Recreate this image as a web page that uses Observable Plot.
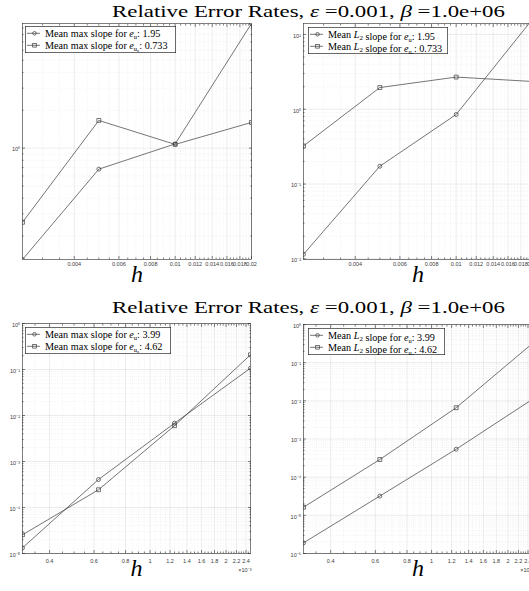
<!DOCTYPE html>
<html>
<head>
<meta charset="utf-8">
<script src="https://cdn.jsdelivr.net/npm/d3@7"></script>
<script src="https://cdn.jsdelivr.net/npm/@observablehq/plot@0.6"></script>
<style>
  html, body { margin: 0; padding: 0; background: #fff; }
  #root { position: relative; width: 529px; height: 591px; overflow: hidden; background: #fff; }
  #root > * { position: absolute; }
</style>
</head>
<body>
<div id="root"></div>
<script>
// ---------------- data ----------------
const hCoarse = [0.0025, 0.005, 0.01, 0.02];
const hFine = [0.0003125, 0.000625, 0.00125, 0.0025];

// top-left: max error
const maxErrU_coarse  = [0.13, 0.68, 1.08, 9.8];
const maxErrUz_coarse = [0.257, 1.66, 1.07, 1.60];
// top-right: L2 error
const l2ErrU_coarse  = [0.0115, 0.173, 0.85, 16];
const l2ErrUz_coarse = [0.323, 1.95, 2.69, 2.35];
// bottom-left: max error
const maxErrU_fine  = [1.33e-5, 4.06e-4, 6.8e-3, 0.107];
const maxErrUz_fine = [2.55e-5, 2.43e-4, 6.0e-3, 0.209];
// bottom-right: L2 error
const l2ErrU_fine  = [1.9e-6, 3.2e-5, 5.4e-4, 0.011];
const l2ErrUz_fine = [1.63e-5, 2.9e-4, 6.6e-3, 0.32];

// legend slopes
const slopesCoarse = ["1.95", "0.733"];
const slopesFine = ["3.99", "4.62"];

// tick values
const xTicksCoarse = [0.004, 0.006, 0.008, 0.01, 0.012, 0.014, 0.016, 0.018, 0.02];
const xTickLabelsCoarse = ["0.004", "0.006", "0.008", "0.01", "0.012", "0.014", "0.016", "0.018", "0.02"];
const xTicksFine = [0.0004, 0.0006, 0.0008, 0.001, 0.0012, 0.0014, 0.0016, 0.0018, 0.002, 0.0022, 0.0024];
const xTickLabelsFine = ["0.4", "0.6", "0.8", "1", "1.2", "1.4", "1.6", "1.8", "2", "2.2", "2.4"];

const titleText = "Relative Error Rates, ";
const epsText = "0.001";
const betaText = "1.0e+06";

// ---------------- helpers ----------------
const INK = "#2b2b2b";
const LINE = "#3a3a3a";
const SANS = "Liberation Sans, Arial, sans-serif";
const SERIF = "Liberation Serif, DejaVu Serif, serif";
const supMap = {"-": "\u207B", "0": "\u2070", "1": "\u00B9", "2": "\u00B2", "3": "\u00B3", "4": "\u2074", "5": "\u2075", "6": "\u2076", "7": "\u2077", "8": "\u2078", "9": "\u2079"};
const pow10Label = d => "10" + String(Math.round(Math.log10(d))).split("").map(c => supMap[c]).join("");

function decadeTicks([a, b]) {
  const out = [];
  for (let e = Math.ceil(Math.log10(a) - 1e-9); e <= Math.floor(Math.log10(b) + 1e-9); e++) out.push(Math.pow(10, e));
  return out;
}
function minorLogTicks([a, b]) {
  const out = [];
  for (let e = Math.floor(Math.log10(a)) - 1; e <= Math.ceil(Math.log10(b)); e++) {
    for (let k = 2; k <= 9; k++) {
      const v = k * Math.pow(10, e);
      if (v > a * 1.0001 && v < b * 0.9999) out.push(v);
    }
  }
  return out;
}

const root = document.getElementById("root");

function panel(cfg) {
  const rows = [];
  cfg.series.forEach(s => s.values.forEach((v, i) => rows.push({h: cfg.h[i], err: v, name: s.name})));
  const yMajor = decadeTicks(cfg.yDomain);
  const yMinor = minorLogTicks(cfg.yDomain);
  const xMinor = d3.range(cfg.xMinorStep[0], cfg.xDomain[1] * 0.9999, cfg.xMinorStep[1])
    .filter(v => v > cfg.xDomain[0] * 1.0001 && !cfg.xTicks.some(t => Math.abs(t - v) < 1e-9));
  const xLabelRows = cfg.xTicks.map((t, i) => ({t, label: cfg.xLabels[i]}));
  const yLabelRows = yMajor.map(t => ({t, label: pow10Label(t)}));
  const tickStyle = {stroke: INK, strokeWidth: 0.6, fill: "none", label: null};
  const marks = [
    Plot.gridX(xMinor, {stroke: "#000", strokeOpacity: 0.09, strokeDasharray: "1,1.2", strokeWidth: 0.6}),
    Plot.gridY(yMinor, {stroke: "#000", strokeOpacity: 0.09, strokeDasharray: "1,1.2", strokeWidth: 0.6}),
    Plot.gridX(cfg.xTicks, {stroke: "#000", strokeOpacity: 0.13, strokeWidth: 0.6}),
    Plot.gridY(yMajor, {stroke: "#000", strokeOpacity: 0.13, strokeWidth: 0.6}),
    // inward ticks on four sides
    Plot.axisX(cfg.xTicks, {...tickStyle, anchor: "bottom", tickSize: 3, dy: -3}),
    Plot.axisX(cfg.xTicks, {...tickStyle, anchor: "top", tickSize: 3, dy: 3}),
    Plot.axisX(xMinor, {...tickStyle, anchor: "bottom", tickSize: 1.5, dy: -1.5}),
    Plot.axisX(xMinor, {...tickStyle, anchor: "top", tickSize: 1.5, dy: 1.5}),
    Plot.axisY(yMajor, {...tickStyle, anchor: "left", tickSize: 3, dx: 3}),
    Plot.axisY(yMajor, {...tickStyle, anchor: "right", tickSize: 3, dx: -3}),
    Plot.axisY(yMinor, {...tickStyle, anchor: "left", tickSize: 1.5, dx: 1.5}),
    Plot.axisY(yMinor, {...tickStyle, anchor: "right", tickSize: 1.5, dx: -1.5}),
    // tick labels
    Plot.text(xLabelRows, {x: "t", text: "label", frameAnchor: "bottom", dy: cfg.xLabelDy, fontSize: 5.5, fill: "#3a3a3a", fontFamily: SANS}),
    Plot.text(yLabelRows, {y: "t", text: "label", frameAnchor: "left", textAnchor: "end", dx: -2.5, dy: 1.5, fontSize: 5.5, fill: "#3a3a3a", fontFamily: SANS}),
  ];
  cfg.series.forEach(s => {
    const sub = rows.filter(r => r.name === s.name);
    marks.push(Plot.line(sub, {x: "h", y: "err", stroke: LINE, strokeWidth: 0.7, clip: true}));
    marks.push(Plot.dot(sub, {x: "h", y: "err", symbol: s.symbol, r: s.symbol === "square" ? 2.2 : 2, stroke: LINE, strokeWidth: 0.7, fill: "none", clip: true}));
  });
  marks.push(Plot.frame({stroke: INK, strokeWidth: 0.6}));
  marks.push(Plot.text(["h"], {frameAnchor: "bottom", dy: cfg.hdy, fontSize: 24, fontStyle: "italic", fontFamily: SERIF, fill: "#000"}));
  if (cfg.exponent) {
    marks.push(Plot.text([cfg.exponent], {frameAnchor: "bottom-right", dy: 18, dx: 1, textAnchor: "end", fontSize: 5.5, fill: "#3a3a3a", fontFamily: SANS}));
  }
  const svg = Plot.plot({
    width: cfg.width, height: cfg.height,
    marginLeft: cfg.ml, marginRight: cfg.mr, marginTop: cfg.mt, marginBottom: cfg.mb,
    style: {background: "transparent", overflow: "visible"},
    x: {type: "log", domain: cfg.xDomain, axis: null},
    y: {type: "log", domain: cfg.yDomain, axis: null},
    marks
  });
  svg.style.left = cfg.left + "px";
  svg.style.top = cfg.top + "px";
  root.appendChild(svg);

  // legend
  const lg = cfg.legend;
  const ls = d3.create("svg").attr("width", lg.w).attr("height", lg.h)
    .style("left", lg.x + "px").style("top", lg.y + "px");
  ls.append("rect").attr("x", 0.35).attr("y", 0.35).attr("width", lg.w - 0.7).attr("height", lg.h - 0.7)
    .attr("fill", "#fff").attr("stroke", INK).attr("stroke-width", 0.7);
  cfg.series.forEach((s, i) => {
    const cy = 7.3 + i * 12;
    ls.append("line").attr("x1", 2).attr("x2", 15).attr("y1", cy).attr("y2", cy).attr("stroke", LINE).attr("stroke-width", 0.7);
    if (s.symbol === "circle") ls.append("circle").attr("cx", 9.5).attr("cy", cy).attr("r", 1.8).attr("fill", "none").attr("stroke", LINE).attr("stroke-width", 0.7);
    else ls.append("rect").attr("x", 7.7).attr("y", cy - 1.8).attr("width", 3.6).attr("height", 3.6).attr("fill", "none").attr("stroke", LINE).attr("stroke-width", 0.7);
    const t = ls.append("text").attr("x", 20).attr("y", cy + 3.4).attr("font-family", SERIF).attr("font-size", 10.2).attr("fill", "#000");
    t.append("tspan").text("Mean ");
    if (cfg.kind === "max") t.append("tspan").text("max");
    else {
      t.append("tspan").attr("font-style", "italic").text("L");
      t.append("tspan").attr("font-size", 7).attr("dy", 2).text("2");
      t.append("tspan").attr("dy", -2).text("");
    }
    t.append("tspan").text(" slope for ");
    t.append("tspan").attr("font-style", "italic").text("e");
    t.append("tspan").attr("font-size", 6.5).attr("dy", 1.8).text("u");
    if (i === 0) {
      t.append("tspan").attr("dy", -1.8).text(": " + s.slope);
    } else {
      t.append("tspan").attr("font-size", 4.8).attr("dy", 1.1).text("z");
      t.append("tspan").attr("dy", -2.9).text(": " + s.slope);
    }
  });
  root.appendChild(ls.node());
}

function title(top) {
  const s = d3.create("svg").attr("width", 529).attr("height", 26).style("left", "0px").style("top", top + "px");
  const t = s.append("text").attr("x", 112).attr("y", 17).attr("font-family", SERIF)
    .attr("font-size", 17.5).attr("fill", "#000").attr("textLength", 393).attr("lengthAdjust", "spacingAndGlyphs");
  t.append("tspan").text(titleText);
  t.append("tspan").attr("font-style", "italic").text("\u03B5");
  t.append("tspan").text(" =" + epsText + ", ");
  t.append("tspan").attr("font-style", "italic").text("\u03B2");
  t.append("tspan").text(" =" + betaText);
  root.appendChild(s.node());
}

title(0);
title(296);

const coarseX = {xDomain: [0.0025, 0.02], xTicks: xTicksCoarse, xLabels: xTickLabelsCoarse, xMinorStep: [0.003, 0.0005], h: hCoarse, xLabelDy: 6.5, hdy: 22.5};
const fineX = {xDomain: [0.0003125, 0.0025], xTicks: xTicksFine, xLabels: xTickLabelsFine, xMinorStep: [0.00035, 0.00005], h: hFine, xLabelDy: 9.5, hdy: 22, exponent: "\u00D710\u207B\u00B3"};

panel({...coarseX, kind: "max", left: 0, top: 0, width: 264, height: 295, ml: 22, mr: 13, mt: 23, mb: 36,
  yDomain: [0.13, 9.8],
  legend: {x: 25, y: 26, w: 151, h: 27},
  series: [
    {name: "eu", symbol: "circle", values: maxErrU_coarse, slope: slopesCoarse[0]},
    {name: "euz", symbol: "square", values: maxErrUz_coarse, slope: slopesCoarse[1]}
  ]});

panel({...coarseX, kind: "L2", left: 264, top: 0, width: 280, height: 295, ml: 39, mr: 12, mt: 23, mb: 36,
  yDomain: [0.0098, 14],
  legend: {x: 308, y: 27, w: 140, h: 27},
  series: [
    {name: "eu", symbol: "circle", values: l2ErrU_coarse, slope: slopesCoarse[0]},
    {name: "euz", symbol: "square", values: l2ErrUz_coarse, slope: slopesCoarse[1]}
  ]});

panel({...fineX, kind: "max", left: 0, top: 295, width: 264, height: 296, ml: 22, mr: 14, mt: 28, mb: 38,
  yDomain: [1e-5, 1],
  legend: {x: 25, y: 327, w: 146, h: 27},
  series: [
    {name: "eu", symbol: "circle", values: maxErrU_fine, slope: slopesFine[0]},
    {name: "euz", symbol: "square", values: maxErrUz_fine, slope: slopesFine[1]}
  ]});

panel({...fineX, kind: "L2", left: 264, top: 295, width: 280, height: 296, ml: 39, mr: 12, mt: 29, mb: 38,
  yDomain: [1e-6, 1],
  legend: {x: 308, y: 328, w: 137, h: 27},
  series: [
    {name: "eu", symbol: "circle", values: l2ErrU_fine, slope: slopesFine[0]},
    {name: "euz", symbol: "square", values: l2ErrUz_fine, slope: slopesFine[1]}
  ]});
</script>
</body>
</html>
